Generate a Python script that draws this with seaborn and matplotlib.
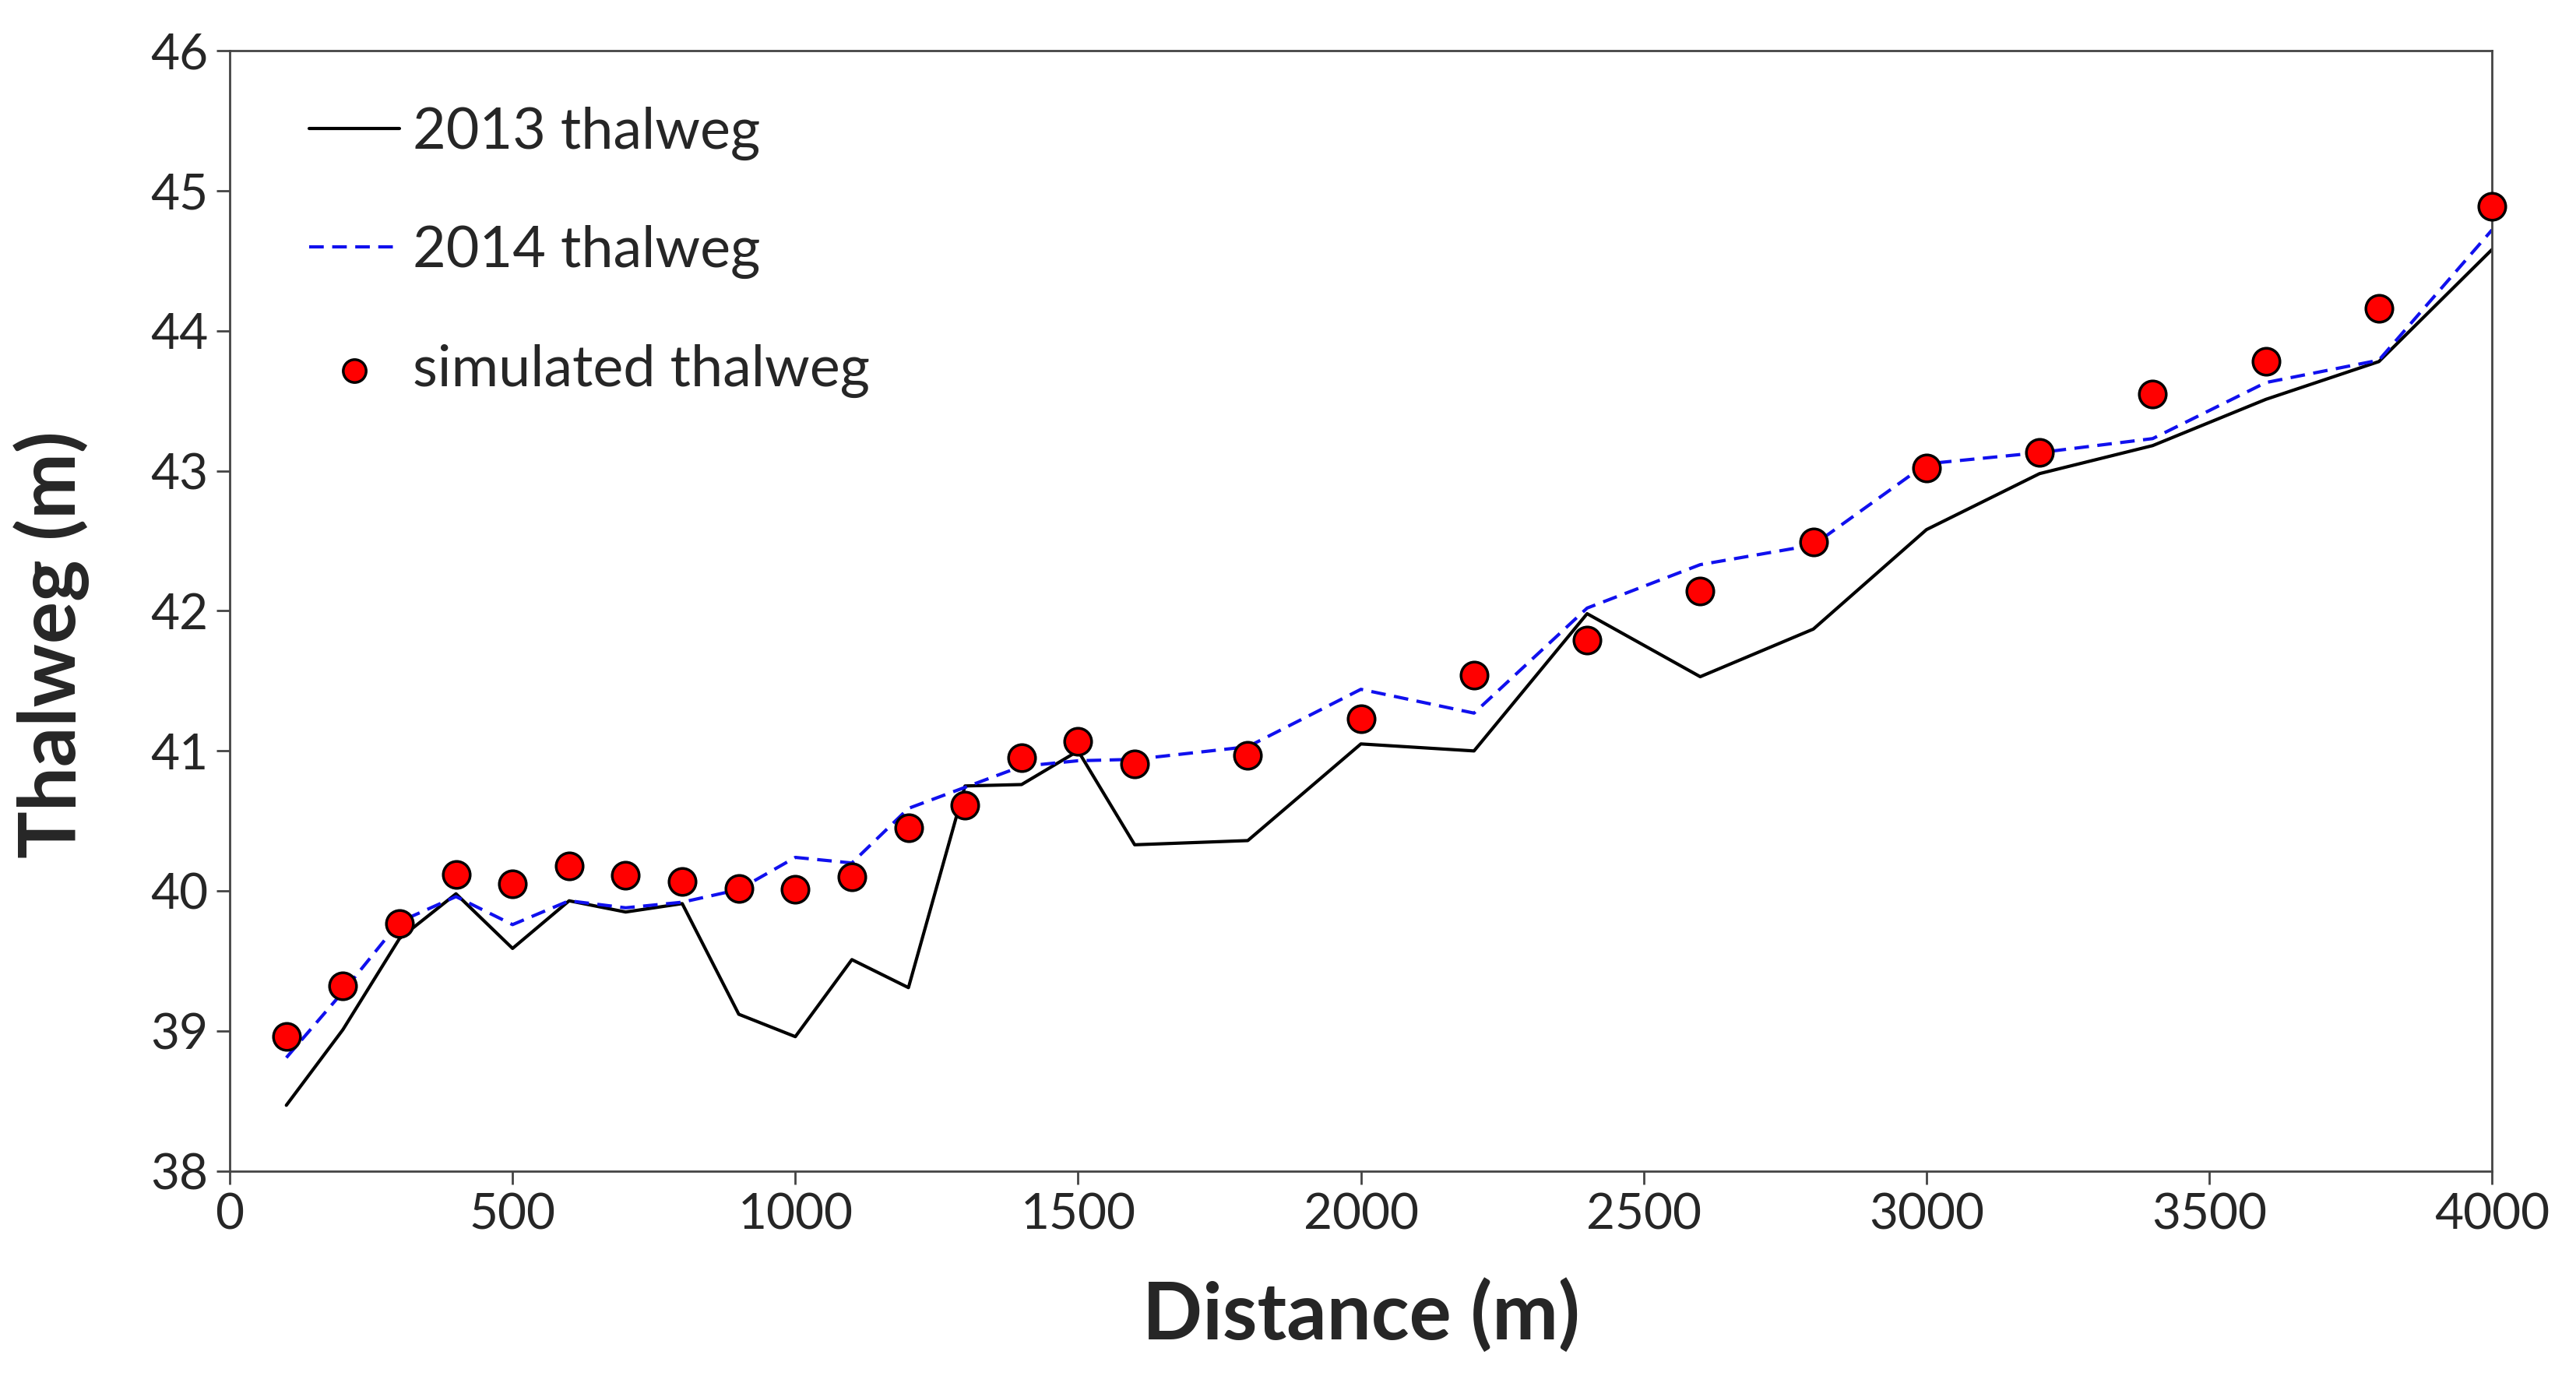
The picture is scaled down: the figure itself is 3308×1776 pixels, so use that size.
import pandas as pd
import seaborn as sns
import matplotlib.pyplot as plt

# distance along the channel (m)
distance = [100, 200, 300, 400, 500, 600, 700, 800, 900, 1000, 1100, 1200, 1300, 1400, 1500, 1600,
            1800, 2000, 2200, 2400, 2600, 2800, 3000, 3200, 3400, 3600, 3800, 4000]

thalweg_2013 = [38.47, 39.01, 39.66, 39.98, 39.59, 39.93, 39.85, 39.91, 39.12, 38.96, 39.51, 39.31,
                40.75, 40.76, 41.00, 40.33, 40.36, 41.05, 41.00, 41.98, 41.53, 41.87, 42.58, 42.98,
                43.18, 43.51, 43.78, 44.58]

thalweg_2014 = [38.81, 39.28, 39.78, 39.96, 39.76, 39.93, 39.88, 39.92, 40.01, 40.24, 40.20, 40.59,
                40.74, 40.89, 40.93, 40.94, 41.03, 41.44, 41.27, 42.02, 42.33, 42.47, 43.05, 43.13,
                43.23, 43.63, 43.79, 44.72]

thalweg_sim = [38.96, 39.32, 39.77, 40.12, 40.05, 40.18, 40.11, 40.07, 40.02, 40.01, 40.10, 40.45,
               40.61, 40.95, 41.07, 40.91, 40.97, 41.23, 41.54, 41.79, 42.14, 42.49, 43.02, 43.13,
               43.55, 43.78, 44.16, 44.89]

df = pd.DataFrame({"Distance": distance, "t2013": thalweg_2013,
                   "t2014": thalweg_2014, "sim": thalweg_sim})

sns.set_style("ticks")
plt.rcParams['font.family'] = ['Lato', 'DejaVu Sans']

fig = plt.figure(figsize=(33.08, 17.76), dpi=100)
ax = fig.add_axes([0.0892, 0.1532, 0.8782, 0.8102])

sns.lineplot(data=df, x="Distance", y="t2013", color="black", lw=3, ax=ax, label="2013 thalweg")
sns.lineplot(data=df, x="Distance", y="t2014", color="#1010ee", lw=3, ax=ax, label="2014 thalweg")
ax.lines[-1].set_dashes((4.5, 2.6))
sns.scatterplot(data=df, x="Distance", y="sim", color="red", edgecolor="black", linewidth=2.5,
                s=620, ax=ax, label="simulated thalweg", zorder=5, clip_on=False)

ax.set_xlim(0, 4000)
ax.set_ylim(38, 46)
ax.set_xticks(range(0, 4001, 500))
ax.set_yticks(range(38, 47))

for sp in ax.spines.values():
    sp.set_visible(True)
    sp.set_linewidth(2)
    sp.set_color("#444444")
ax.tick_params(axis="both", direction="out", length=12, width=2, color="#444444",
               labelsize=46, pad=8)

ax.set_xlabel("Distance (m)", fontsize=73, fontweight="bold")
ax.set_ylabel("Thalweg (m)", fontsize=73, fontweight="bold")
ax.xaxis.set_label_coords(0.5, -0.095)
ax.yaxis.set_label_coords(-0.062, 0.47)

handles, labels = ax.get_legend_handles_labels()
ax.legend(handles, labels, loc="upper left", bbox_to_anchor=(0.035, 0.95), frameon=False,
          fontsize=53, handlelength=1.58, handletextpad=0.23, labelspacing=1.13,
          borderpad=0, borderaxespad=0, markerscale=0.85)

fig.savefig("out.png", dpi=100)
